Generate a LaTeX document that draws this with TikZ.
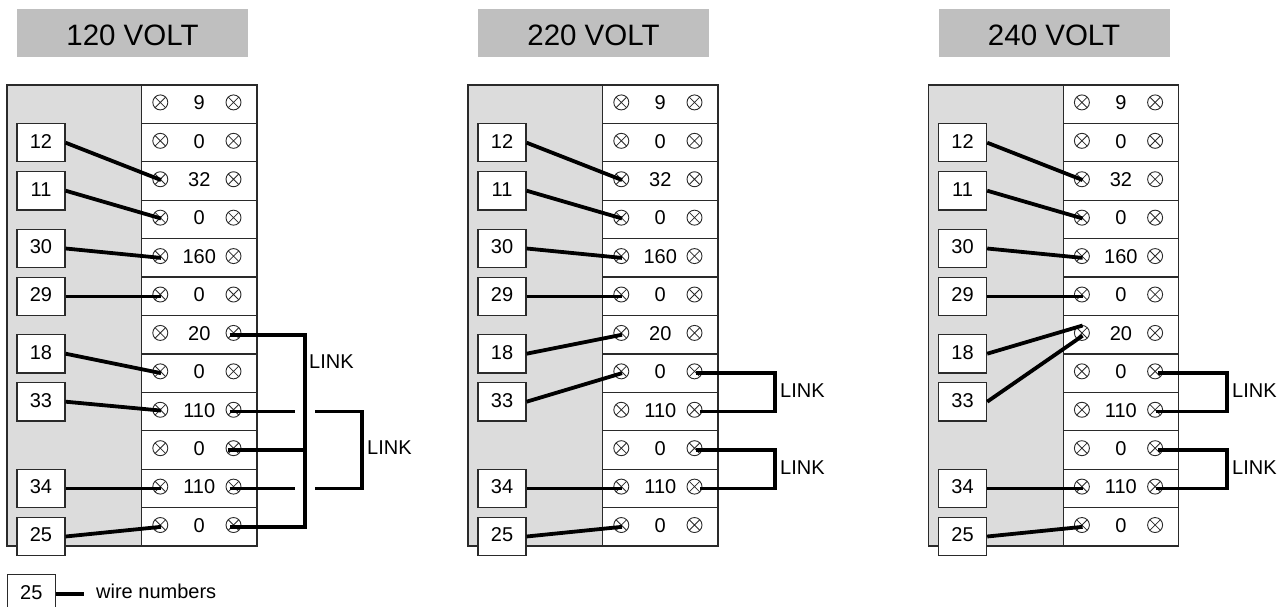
\documentclass[tikz,border=0pt]{standalone}
\usepackage{fontspec}
\setmainfont{Liberation Sans}
\definecolor{panelgray}{HTML}{DCDCDC}
\definecolor{titlegray}{HTML}{BFBFBF}
\definecolor{edge}{HTML}{2A2A2A}
\tikzset{
  wire/.style={line width=3.8pt,black},
  boxtext/.style={font=\fontsize{20}{22}\selectfont,text height=14.3pt,text depth=3.4pt,inner sep=0pt},
  cell/.style={boxtext,draw=edge,fill=white,line width=1.2pt,minimum width=115.5pt,minimum height=38.4pt},
  wirebox/.style={boxtext,draw=edge,fill=white,line width=1.2pt,minimum width=48pt,minimum height=38.4pt},
  panelback/.style={draw=edge,fill=panelgray,line width=1.2pt},
  term/.style={circle,draw=edge,line width=0.9pt,minimum size=15pt,inner sep=0pt,
    path picture={\draw[edge,line width=0.8pt]
      (path picture bounding box.south west)--(path picture bounding box.north east)
      (path picture bounding box.north west)--(path picture bounding box.south east);}},
  titlebox/.style={fill=titlegray,minimum width=231pt,minimum height=47.6pt,inner sep=0pt,
    font=\fontsize{29.5}{32}\selectfont,text height=25pt,text depth=0pt},
  plain/.style={font=\fontsize{20}{22}\selectfont,inner sep=0pt,anchor=west},
}
\newcommand{\panelbody}[3]{%
  \begin{scope}[xshift=#2pt,name prefix=#1]
    \node[titlebox] (title) at (132.5,33) {#3};
    \draw[panelback] (7,85) rectangle (141.5,546);
    \foreach \r/\t [count=\i from 0] in {1/9,2/0,3/32,4/0,5/160,6/0,7/20,8/0,9/110,10/0,11/110,12/0}{
      \node[cell] (row\r) at (199.3,{85+38.42*(\i+0.5)}) {\t};
      \node[term] (L\r) at (160.3,{85+38.42*(\i+0.5)-1.8}) {};
      \node[term] (R\r) at (233.5,{85+38.42*(\i+0.5)-1.8}) {};
      \coordinate (WL\r) at (161,{85+38.42*(\i+0.5)});
      \coordinate (WR\r) at (233.5,{85+38.42*(\i+0.5)});
    }
    \node[wirebox] (w12) at (41,142.7) {12};
    \node[wirebox] (w11) at (41,190.7) {11};
    \node[wirebox] (w30) at (41,248.5) {30};
    \node[wirebox] (w29) at (41,296.5) {29};
    \node[wirebox] (w18) at (41,353.7) {18};
    \node[wirebox] (w33) at (41,401.7) {33};
    \node[wirebox] (w34) at (41,488.4) {34};
    \node[wirebox] (w25) at (41,536.5) {25};
    \draw[wire] (w12.east) -- ([yshift=1pt]WL3);
    \draw[wire] (w11.east) -- ([yshift=1pt]WL4);
    \draw[wire] (w30.east) -- (WL5);
    \draw[wire] (w29.east) -- (w29.east -| WL6);
    \draw[wire] (w34.east) -- (w34.east -| WL11);
    \draw[wire] (w25.east) -- (WL12);
  \end{scope}}
\begin{document}
\begin{tikzpicture}[x=1pt,y=-1pt]
\useasboundingbox (0,0) rectangle (1288,607);
\fill[white] (0,0) rectangle (1288,607);

% ---------- 120 VOLT
\panelbody{a}{0}{120 VOLT}
\draw[wire] (aw18.east) -- (aWL8);
\draw[wire] (aw33.east) -- ([yshift=1pt]aWL9);
\coordinate (ax1) at (305,400);
\draw[wire] ([xshift=-4pt]aWR7) -| (ax1) |- ([xshift=-4pt]aWR12);
\draw[wire] ([xshift=-6pt]aWR10) -- (aWR10 -| ax1);
\coordinate (ag1) at (295,400);
\coordinate (ag3) at (315,400);
\coordinate (ax2) at (362,450);
\draw[wire] ([xshift=-4pt]aWR9) -- (aWR9 -| ag1);
\draw[wire] ([xshift=-4pt]aWR11) -- (aWR11 -| ag1);
\draw[wire] (aWR9 -| ag3) -| (ax2) |- (aWR11 -| ag3);
\node[plain] (al1) at (309,362) {LINK};
\node[plain] (al2) at (367,448) {LINK};

% ---------- 220 VOLT
\panelbody{b}{461}{220 VOLT}
\draw[wire] (bw18.east) -- (bWL7);
\draw[wire] (bw33.east) -- (bWL8);
\coordinate (bx1) at (775,392);
\coordinate (bx2) at (775,469);
\draw[wire] ([xshift=1pt]bWR8) -| (bx1) |- ([xshift=5pt]bWR9);
\draw[wire] ([xshift=1pt]bWR10) -| (bx2) |- ([xshift=5pt]bWR11);
\node[plain] (bl1) at (780,391) {LINK};
\node[plain] (bl2) at (780,468) {LINK};

% ---------- 240 VOLT
\panelbody{c}{921.6}{240 VOLT}
\draw[wire] (cw18.east) -- ([yshift=9.2pt]cWL7);
\draw[wire] (cw33.east) -- ([yshift=-1pt]cWL7);
\coordinate (cx1) at (1226.7,392);
\coordinate (cx2) at (1226.7,469);
\draw[wire] ([xshift=3pt]cWR8) -| (cx1) |- ([xshift=1pt]cWR9);
\draw[wire] ([xshift=3pt]cWR10) -| (cx2) |- ([xshift=1pt]cWR11);
\node[plain] (cl1) at (1232,391) {LINK};
\node[plain] (cl2) at (1232,468) {LINK};

% ---------- legend
\node[wirebox] (leg) at (31.3,594) {25};
\coordinate (legend end) at (84,594);
\draw[wire] (leg.east) -- (legend end);
\node[plain] (legtext) at (96,591) {wire numbers};
\end{tikzpicture}
\end{document}
